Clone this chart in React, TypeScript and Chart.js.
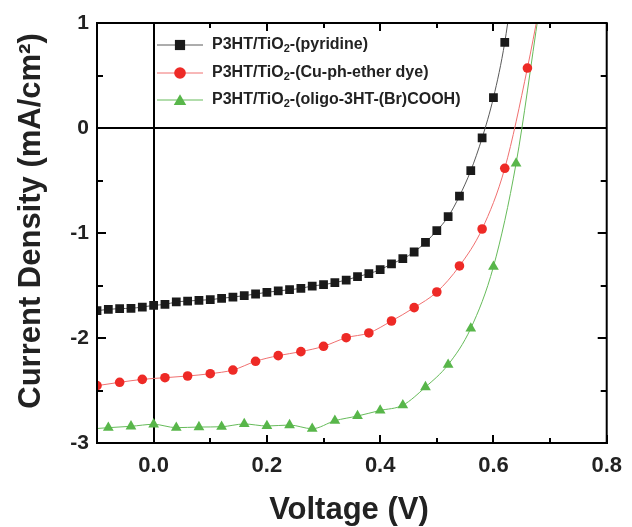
import React, { useEffect, useRef } from "react";
import { Chart, registerables } from "chart.js";

Chart.register(...registerables);

// ---- data ----
const pyridineV = [
  -0.1, -0.08, -0.06, -0.04, -0.02, 0, 0.02, 0.04, 0.06, 0.08, 0.1, 0.12, 0.14, 0.16, 0.18, 0.2,
  0.22, 0.24, 0.26, 0.28, 0.3, 0.32, 0.34, 0.36, 0.38, 0.4, 0.42, 0.44, 0.46, 0.48, 0.5, 0.52,
  0.54, 0.56, 0.58, 0.6, 0.62, 0.64,
];
const pyridineJ = [
  -1.74, -1.727, -1.72, -1.717, -1.705, -1.689, -1.68, -1.657, -1.648, -1.641, -1.635, -1.622,
  -1.61, -1.597, -1.581, -1.565, -1.552, -1.54, -1.527, -1.505, -1.492, -1.473, -1.448, -1.416,
  -1.387, -1.349, -1.295, -1.245, -1.181, -1.089, -0.978, -0.845, -0.648, -0.406, -0.095, 0.289,
  0.816, 1.6,
];

const cuEtherV = [
  -0.1, -0.06, -0.02, 0.02, 0.06, 0.1, 0.14, 0.18, 0.22, 0.26, 0.3, 0.34, 0.38, 0.42, 0.46, 0.5,
  0.54, 0.58, 0.62, 0.66, 0.7,
];
const cuEtherJ = [
  -2.454, -2.422, -2.394, -2.378, -2.362, -2.34, -2.305, -2.222, -2.168, -2.13, -2.079, -1.997,
  -1.952, -1.838, -1.711, -1.562, -1.314, -0.962, -0.384, 0.571, 1.7,
];

const oligoV = [
  -0.12, -0.08, -0.04, 0, 0.04, 0.08, 0.12, 0.16, 0.2, 0.24, 0.28, 0.32, 0.36, 0.4, 0.44, 0.48,
  0.52, 0.56, 0.6, 0.64, 0.68,
];
const oligoJ = [
  -2.87, -2.854, -2.841, -2.822, -2.854, -2.848, -2.845, -2.819, -2.838, -2.829, -2.864, -2.788,
  -2.743, -2.69, -2.64, -2.467, -2.254, -1.908, -1.321, -0.337, 1.1,
];

const seriesLabels = [
  "P3HT/TiO₂-(pyridine)",
  "P3HT/TiO₂-(Cu-ph-ether dye)",
  "P3HT/TiO₂-(oligo-3HT-(Br)COOH)",
];

const xMajorTicks = [0, 0.2, 0.4, 0.6, 0.8];
const xMinorTicks = [0.1, 0.3, 0.5, 0.7];
const yMajorTicks = [-3, -2, -1, 0, 1];
const yMinorTicks = [-2.5, -1.5, -0.5, 0.5];

const xTitle = "Voltage (V)";
const yTitle = "Current Density (mA/cm²)";

const FONT = "'Liberation Sans', Arial, Helvetica, sans-serif";

const toPoints = (xs: number[], ys: number[]) => xs.map((x, i) => ({ x, y: ys[i] }));

const framePlugin = {
  id: "frameTicks",
  afterDatasetsDraw(chart: any) {
    const { ctx, chartArea, scales } = chart;
    const { left, right, top, bottom } = chartArea;
    const x = scales.x;
    const y = scales.y;
    ctx.save();
    ctx.strokeStyle = "#000";
    ctx.lineWidth = 2;
    ctx.strokeRect(left, top, right - left, bottom - top);
    const drawX = (vals: number[], len: number) => {
      vals.forEach((v) => {
        const px = Math.round(x.getPixelForValue(v));
        ctx.beginPath();
        ctx.moveTo(px, bottom);
        ctx.lineTo(px, bottom - len);
        ctx.moveTo(px, top);
        ctx.lineTo(px, top + len);
        ctx.stroke();
      });
    };
    const drawY = (vals: number[], len: number) => {
      vals.forEach((v) => {
        const py = Math.round(y.getPixelForValue(v));
        ctx.beginPath();
        ctx.moveTo(left, py);
        ctx.lineTo(left + len, py);
        ctx.moveTo(right, py);
        ctx.lineTo(right - len, py);
        ctx.stroke();
      });
    };
    drawX(xMajorTicks, 8);
    drawX(xMinorTicks, 5);
    drawY(yMajorTicks, 9);
    drawY(yMinorTicks, 6);
    ctx.restore();
  },
};

const titlePlugin = {
  id: "axisTitles",
  afterDraw(chart: any) {
    const { ctx } = chart;
    ctx.save();
    ctx.fillStyle = "#222";
    ctx.font = `bold 31px ${FONT}`;
    ctx.textAlign = "center";
    ctx.textBaseline = "middle";
    ctx.fillText(xTitle, 349, 510);
    ctx.translate(31, 221);
    ctx.rotate(-Math.PI / 2);
    ctx.fillText(yTitle, 0, 0);
    ctx.restore();
  },
};

const legendPlugin = {
  id: "subLegend",
  afterDraw(chart: any) {
    const { ctx } = chart;
    const rows = [45, 73, 100];
    ctx.save();
    chart.data.datasets.forEach((ds: any, i: number) => {
      const yy = rows[i];
      ctx.strokeStyle = ds.borderColor;
      ctx.lineWidth = 1;
      ctx.beginPath();
      ctx.moveTo(157, yy);
      ctx.lineTo(203, yy);
      ctx.stroke();
      ctx.fillStyle = ds.pointBackgroundColor;
      const r = ds.pointRadius + 1;
      ctx.beginPath();
      if (ds.pointStyle === "rect") {
        const s = r * Math.SQRT1_2;
        ctx.rect(180 - s, yy - s, 2 * s, 2 * s);
      } else if (ds.pointStyle === "triangle") {
        const c = yy + 1.5;
        ctx.moveTo(180, c - r);
        ctx.lineTo(180 + r * Math.sin((2 * Math.PI) / 3), c - r * Math.cos((2 * Math.PI) / 3));
        ctx.lineTo(180 + r * Math.sin((4 * Math.PI) / 3), c - r * Math.cos((4 * Math.PI) / 3));
        ctx.closePath();
      } else {
        ctx.arc(180, yy, r, 0, Math.PI * 2);
      }
      ctx.fill();

      // text with subscript
      const parts = String(ds.label).split("₂");
      let tx = 212;
      ctx.fillStyle = "#222";
      ctx.textBaseline = "middle";
      ctx.textAlign = "left";
      parts.forEach((p: string, k: number) => {
        ctx.font = `bold 16px ${FONT}`;
        ctx.fillText(p, tx, yy);
        tx += ctx.measureText(p).width;
        if (k < parts.length - 1) {
          ctx.font = `bold 11px ${FONT}`;
          ctx.fillText("2", tx, yy + 4);
          tx += ctx.measureText("2").width;
        }
      });
    });
    ctx.restore();
  },
};

export default function App() {
  const ref = useRef<HTMLCanvasElement>(null);

  useEffect(() => {
    if (!ref.current) return;
    const zeroColor = (c: any) => (c.tick && c.tick.value === 0 ? "#000" : "rgba(0,0,0,0)");
    const chart = new Chart(ref.current, {
      type: "line",
      data: {
        datasets: [
          {
            label: seriesLabels[0],
            data: toPoints(pyridineV, pyridineJ),
            borderColor: "#5a5a5a",
            borderWidth: 1,
            pointStyle: "rect",
            pointRadius: 6.2,
            pointBackgroundColor: "#1a1a1a",
            pointBorderWidth: 0,
            cubicInterpolationMode: "monotone",
          },
          {
            label: seriesLabels[1],
            data: toPoints(cuEtherV, cuEtherJ),
            borderColor: "#f07070",
            borderWidth: 1,
            pointStyle: "circle",
            pointRadius: 4.8,
            pointBackgroundColor: "#ee2a26",
            pointBorderWidth: 0,
            cubicInterpolationMode: "monotone",
          },
          {
            label: seriesLabels[2],
            data: toPoints(oligoV, oligoJ),
            borderColor: "#66bb5a",
            borderWidth: 1,
            pointStyle: "triangle",
            pointRadius: 6.2,
            pointBackgroundColor: "#58b64a",
            pointBorderWidth: 0,
            cubicInterpolationMode: "monotone",
          },
        ],
      } as any,
      options: {
        animation: false,
        responsive: false,
        events: [],
        layout: { padding: { top: 23, right: 17, left: 0, bottom: 0 } },
        plugins: { legend: { display: false }, tooltip: { enabled: false } },
        scales: {
          x: {
            type: "linear",
            min: -0.1,
            max: 0.8,
            afterBuildTicks: (s: any) => {
              s.ticks = xMajorTicks.map((v) => ({ value: v }));
            },
            afterFit: (s: any) => {
              s.height = 84;
            },
            grid: { color: zeroColor, lineWidth: 2, drawTicks: false },
            border: { display: true, color: "#000", width: 2 },
            ticks: {
              callback: (v: any) => Number(v).toFixed(1),
              font: { family: FONT, size: 22, weight: "bold" },
              color: "#222",
              padding: 10,
              maxRotation: 0,
              autoSkip: false,
            },
          },
          y: {
            type: "linear",
            min: -3,
            max: 1,
            afterBuildTicks: (s: any) => {
              s.ticks = yMajorTicks.map((v) => ({ value: v }));
            },
            afterFit: (s: any) => {
              s.width = 97;
            },
            grid: { color: zeroColor, lineWidth: 2, drawTicks: false },
            border: { display: true, color: "#000", width: 2 },
            ticks: {
              callback: (v: any) => String(v),
              font: { family: FONT, size: 21, weight: "bold" },
              color: "#222",
              padding: 8,
            },
          },
        },
      } as any,
      plugins: [framePlugin, titlePlugin, legendPlugin],
    });
    return () => chart.destroy();
  }, []);

  return (
    <div style={{ position: "absolute", left: 0, top: 0, width: 632, height: 527, background: "#fff" }}>
      <canvas ref={ref} width={632} height={527} style={{ display: "block" }} />
    </div>
  );
}
